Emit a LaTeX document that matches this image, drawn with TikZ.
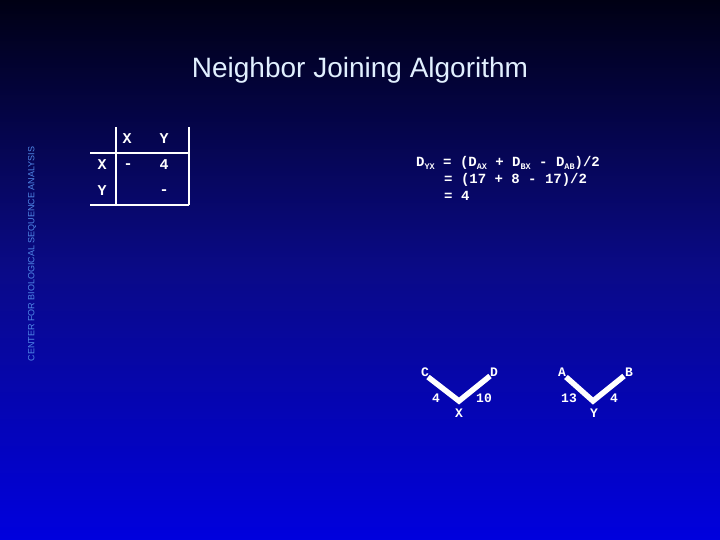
\documentclass[tikz,border=0pt]{standalone}
\usepackage{fontspec}
\setmainfont{Liberation Sans}
\setsansfont{Liberation Sans}
\setmonofont{Liberation Mono}
\begin{document}
\begin{tikzpicture}[x=1pt,y=-1pt,
  titletext/.style={font=\fontsize{28}{32}\selectfont\sffamily, text={rgb,255:red,225;green,240;blue,255}, inner sep=0pt},
  sidetext/.style={font=\fontsize{9}{10}\selectfont\sffamily, text={rgb,255:red,80;green,135;blue,230}, inner sep=0pt, rotate=90},
  celltext/.style={font=\fontsize{15}{17}\selectfont\ttfamily\bfseries, text=white, inner sep=0pt},
  eqtext/.style={font=\fontsize{14}{16}\selectfont\ttfamily\bfseries, text=white, inner sep=0pt, anchor=base west},
  treetext/.style={font=\fontsize{13}{15}\selectfont\ttfamily\bfseries, text=white, inner sep=0pt},
  rule/.style={draw=white, line width=1.6pt},
  branch/.style={draw=white, line width=5.5pt, line join=miter, line cap=butt}]
\newcommand{\sbx}[1]{\raisebox{-2.5pt}{\fontsize{8.5}{9}\selectfont #1}}
% background
\shade[top color={rgb,255:red,0;green,0;blue,20}, bottom color={rgb,255:red,0;green,0;blue,222}, middle color={rgb,255:red,10;green,10;blue,135}] (0,0) rectangle (720,540);
\path[use as bounding box] (0,0) rectangle (720,540);
% title and side text
\node[titletext] (title) at (360,70) {Neighbor Joining Algorithm};
\node[sidetext] (side) at (32,254) {CENTER FOR BIOLOGICAL SEQUENCE ANALYSIS};
% matrix
\coordinate (tl) at (116,127);
\coordinate (tr) at (189,127);
\coordinate (ml) at (90,153);
\coordinate (mr) at (189,153);
\coordinate (bl) at (90,205);
\coordinate (br) at (189,205);
\coordinate (vb) at (116,205);
\draw[rule] (tl) -- (vb);
\draw[rule] (tr) -- (br);
\draw[rule] (ml) -- (mr);
\draw[rule] (bl) -- (br);
\node[celltext] (hx) at (127,139) {X};
\node[celltext] (hy) at (164,139) {Y};
\node[celltext] (rx) at (102,165) {X};
\node[celltext] (ry) at (102,191) {Y};
\node[celltext] (xx) at (128,166) {-};
\node[celltext] (xy) at (164,165) {4};
\node[celltext] (yy) at (164,192) {-};
% equation
\node[eqtext] (eq1) at (416,167) {D\sbx{YX} = (D\sbx{AX} + D\sbx{BX} - D\sbx{AB})/2};
\node[eqtext] (eq2) at (444,184) {= (17 + 8 - 17)/2};
\node[eqtext] (eq3) at (444,201) {= 4};
% tree 1
\node[treetext] (c) at (425,372) {C};
\node[treetext] (d) at (494,372) {D};
\node[treetext] (x) at (459,413) {X};
\node[treetext] (l4) at (436,398) {4};
\node[treetext] (l10) at (484,398) {10};
\coordinate (c1) at (428,377);
\coordinate (x1) at (459,401);
\coordinate (d1) at (490,376);
\draw[branch] (c1) -- (x1) -- (d1);
% tree 2
\node[treetext] (a) at (562,372) {A};
\node[treetext] (b) at (629,372) {B};
\node[treetext] (y) at (594,413) {Y};
\node[treetext] (l13) at (569,398) {13};
\node[treetext] (l4b) at (614,398) {4};
\coordinate (a1) at (566,377);
\coordinate (y1) at (593,401);
\coordinate (b1) at (624,376);
\draw[branch] (a1) -- (y1) -- (b1);
\end{tikzpicture}
\end{document}
